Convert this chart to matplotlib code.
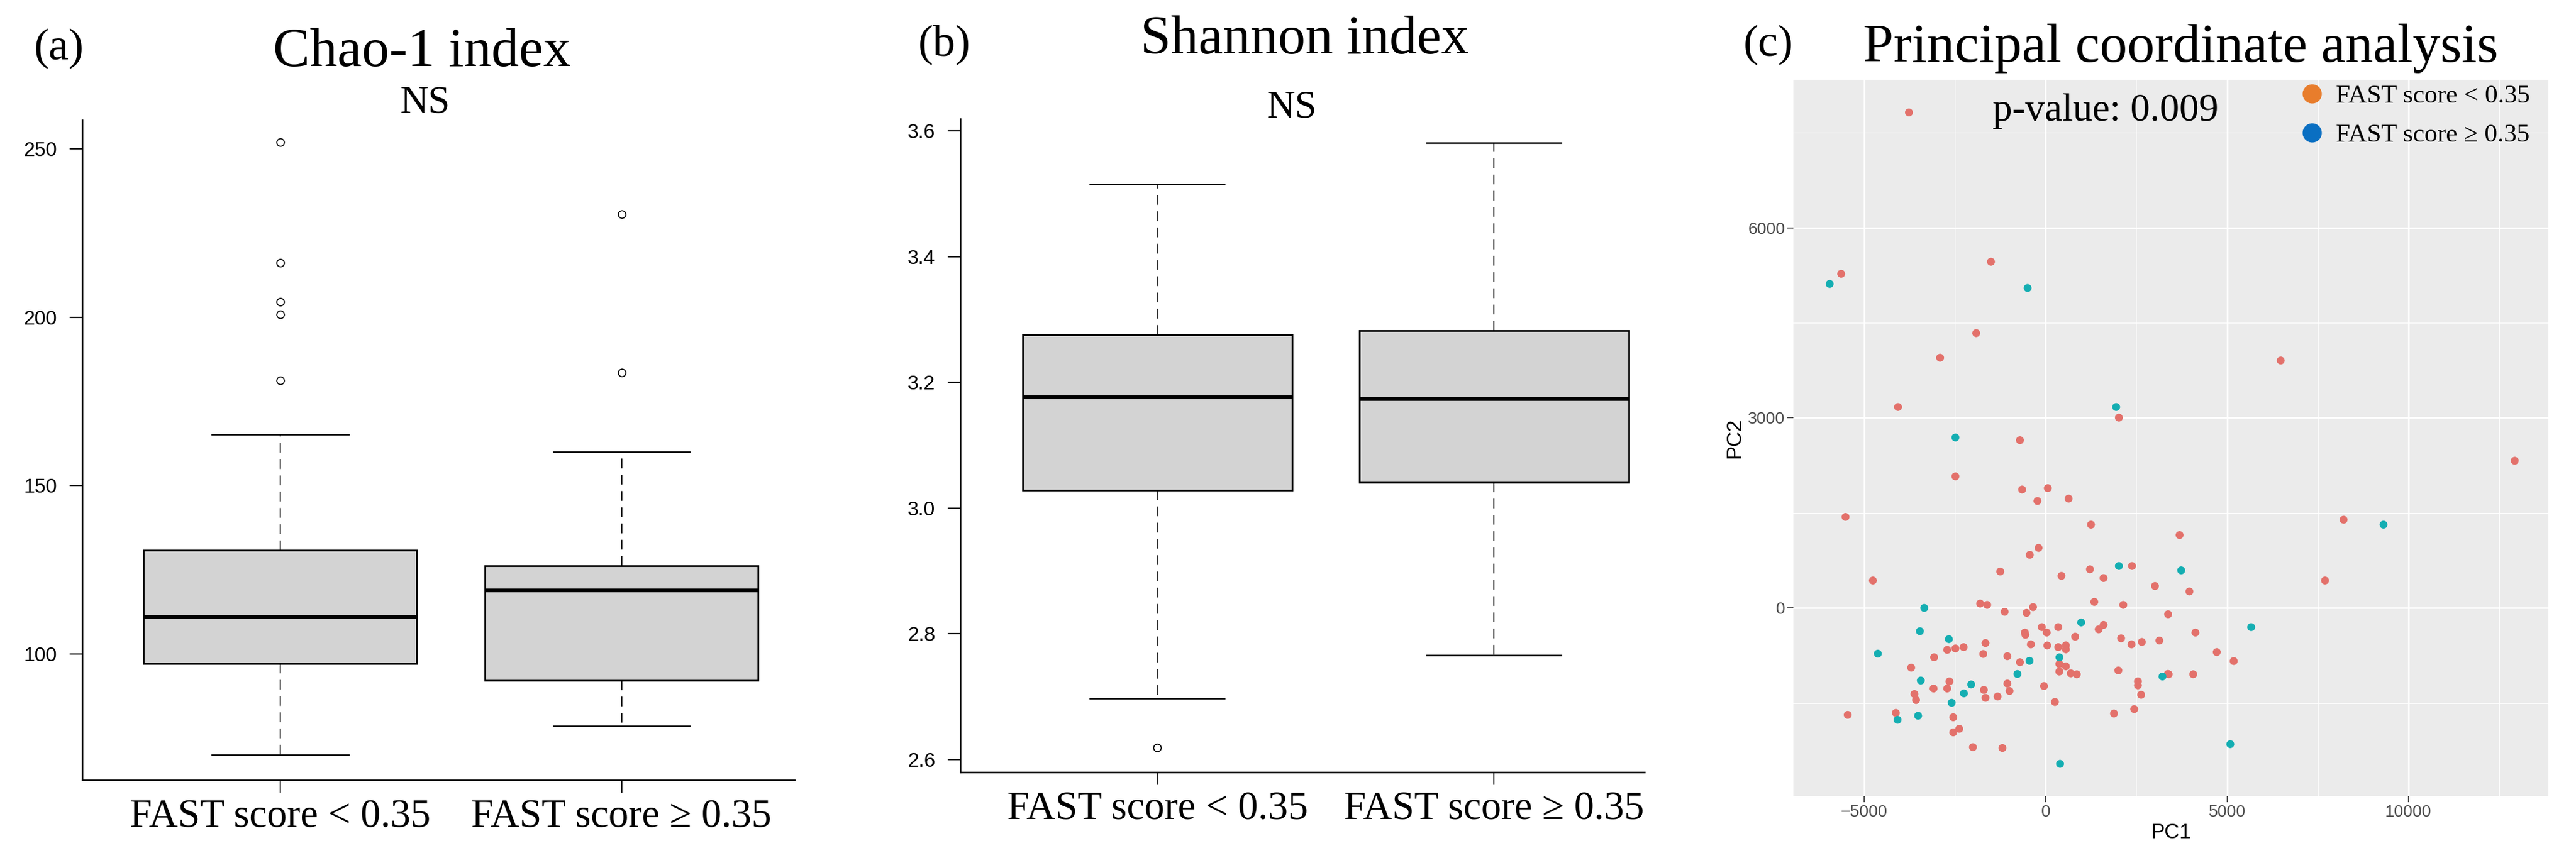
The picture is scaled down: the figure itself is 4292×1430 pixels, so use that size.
import numpy as np
import matplotlib
matplotlib.use("Agg")
import matplotlib.pyplot as plt
from matplotlib.lines import Line2D

plt.rcParams['font.family'] = ['Liberation Sans', 'DejaVu Sans']
SERIF = ['Liberation Serif', 'DejaVu Serif']

groups = ['FAST score < 0.35', 'FAST score \u2265 0.35']

# box plot statistics (low whisker, q1, median, q3, high whisker)
chao_lo = [70.0, 78.6]
chao_q1 = [97.1, 92.1]
chao_med = [111.0, 118.9]
chao_q3 = [130.7, 126.1]
chao_hi = [165.2, 160.0]
chao_out = [[252.0, 216.2, 204.6, 200.8, 181.3], [230.7, 183.6]]

shan_lo = [2.697, 2.766]
shan_q1 = [3.028, 3.041]
shan_med = [3.176, 3.173]
shan_q3 = [3.276, 3.282]
shan_hi = [3.515, 3.581]
shan_out = [[2.619], []]

# PCoA coordinates, FAST score < 0.35
low_pc1 = [-3768, -1507, -5636, -1914, -2909, 6480, -4069, 2019,
           -708, 12930, -2487, -648, 60, -226, 633, -5516, 8213, 1251, 3692, -196,
           -437, -1251, 2381, 1221, 437, 1597, -4762, 7701, 3014, 3963,
           -1805, -1611, 1341, 2140, -1130, -347, -527, 3376, 1597, 1462,
           -105, 347, -573, 30, 4129, -557, 814, 2080, 3135, 2652,
           -1658, 2366, -407, 45, -2260, -2487, -2713, 347, 558, 558,
           4717, -1718, -1055, -3074, 5184, -708, 377, 558, -3707, 2004,
           377, 693, 859, 3391, 4069, -2652, 2544, 2544, -1055, -45,
           -3089, -2713, -1703, -995, -3617, 2633, -1326, -1658, -3572, 256,
           2441, -5455, -4129, 1884, -2547, -2381, -2547, -2004, -1191, 3369]
low_pc2 = [7822, 5465, 5275, 4338, 3950, 3906, 3172, 3004,
           2648, 2324, 2077, 1869, 1891, 1688, 1726, 1437, 1393, 1315, 1151, 948,
           839, 575, 662, 610, 506, 472, 433, 433, 346, 260,
           69, 48, 95, 48, -61, 13, -78, -100, -268, -338,
           -303, -303, -389, -389, -389, -424, -454, -480, -515, -537,
           -554, -575, -575, -593, -619, -640, -662, -619, -591, -654,
           -697, -727, -762, -779, -839, -857, -884, -922, -943, -987,
           -1004, -1033, -1048, -1047, -1047, -1160, -1159, -1222, -1194, -1233,
           -1272, -1272, -1294, -1311, -1359, -1371, -1398, -1419, -1454, -1484,
           -1597, -1688, -1657, -1666, -1726, -1908, -1964, -2198, -2211, -1042]

# PCoA coordinates, FAST score >= 0.35
high_pc1 = [-5953, -497, 1944, -2487, 9313, 2019, 3737, -3346, 980, 5666,
            -3466, -2667, -4626, 380, -445, -778, 3220, -3441, -2052, -2252,
            -2590, -3515, -4082, 5090, 397]
high_pc2 = [5115, 5050, 3172, 2691, 1315, 662, 593, 0, -229, -303,
            -367, -493, -722, -780, -835, -1043, -1083, -1146, -1208, -1349,
            -1497, -1702, -1766, -2151, -2461]


def fx(px):
    return px / 4292.0


def fy(py):
    return 1 - py / 1430.0


fig = plt.figure(figsize=(42.92, 14.30), dpi=100)


def box_panel(rect, lo, q1, med, q3, hi, out, ylim, xlim, yticks, ylabels):
    ax = fig.add_axes(rect)
    stats = []
    for i in range(2):
        stats.append(dict(whislo=lo[i], q1=q1[i], med=med[i], q3=q3[i],
                          whishi=hi[i], fliers=out[i]))
    ax.bxp(stats, positions=[1, 2], widths=0.8, patch_artist=True,
           boxprops=dict(facecolor='#D3D3D3', edgecolor='black', linewidth=2.0),
           medianprops=dict(color='black', linewidth=4.5, solid_capstyle='butt'),
           whiskerprops=dict(color='black', linewidth=1.3, linestyle=(0, (9, 6))),
           capprops=dict(color='black', linewidth=1.8),
           flierprops=dict(marker='o', markerfacecolor='none', markeredgecolor='black',
                           markersize=9, markeredgewidth=1.3))
    ax.set_xlim(xlim)
    ax.set_ylim(ylim)
    for s in ['top', 'right']:
        ax.spines[s].set_visible(False)
    for s in ['left', 'bottom']:
        ax.spines[s].set_linewidth(1.8)
    ax.set_xticks([1, 2])
    ax.set_xticklabels(groups, fontfamily=SERIF, fontsize=48)
    ax.set_yticks(yticks)
    ax.set_yticklabels(ylabels, fontsize=24)
    ax.tick_params(axis='x', length=15, width=1.4, pad=8)
    ax.tick_params(axis='y', length=15, width=1.6, pad=15)
    return ax


# (a) Chao-1
ax1 = box_panel([fx(137), fy(1300), fx(1324 - 137), (1300 - 200) / 1430.0],
                chao_lo, chao_q1, chao_med, chao_q3, chao_hi, chao_out,
                (62.5, 258.6), (0.42, 2.507),
                [100, 150, 200, 250], ['100', '150', '200', '250'])

# (b) Shannon
ax2 = box_panel([fx(1600), fy(1287), fx(2740 - 1600), (1287 - 198) / 1430.0],
                shan_lo, shan_q1, shan_med, shan_q3, shan_hi, shan_out,
                (2.58, 3.619), (0.415, 2.447),
                [2.6, 2.8, 3.0, 3.2, 3.4, 3.6], ['2.6', '2.8', '3.0', '3.2', '3.4', '3.6'])

# (c) PCoA
ax3 = fig.add_axes([fx(2988), fy(1327), fx(4246 - 2988), (1327 - 133) / 1430.0])
ax3.set_facecolor('#EBEBEB')
ax3.scatter(low_pc1, low_pc2, s=90, color='#E3716B', edgecolors='none', zorder=3)
ax3.scatter(high_pc1, high_pc2, s=90, color='#14AEB2', edgecolors='none', zorder=3)
ax3.set_xlim(-6954, 13858)
ax3.set_ylim(-2972, 8337)
ax3.set_xticks([-5000, 0, 5000, 10000])
ax3.set_xticks([-2500, 2500, 7500, 12500], minor=True)
ax3.set_yticks([0, 3000, 6000])
ax3.set_yticks([-1500, 1500, 4500, 7500], minor=True)
ax3.grid(which='major', color='white', linewidth=1.8)
ax3.grid(which='minor', color='white', linewidth=0.9)
ax3.set_axisbelow(True)
for s in ax3.spines.values():
    s.set_visible(False)
ax3.tick_params(which='major', length=7, width=1.2, color='#333333',
                labelcolor='#4D4D4D', labelsize=20, pad=3)
ax3.tick_params(which='minor', length=0)
ax3.set_xlabel('PC1', fontsize=25, labelpad=3)
ax3.set_ylabel('PC2', fontsize=25, labelpad=4)

handles = [Line2D([], [], marker='o', linestyle='', color='#E87D2C', markersize=22),
           Line2D([], [], marker='o', linestyle='', color='#0A6FC2', markersize=22)]
ax3.legend(handles, groups, loc='upper left', bbox_to_anchor=(fx(3830), fy(141)),
           bbox_transform=fig.transFigure, frameon=False,
           prop=dict(family=SERIF, size=31), handlelength=1.0, handletextpad=0.45,
           labelspacing=0.6, borderpad=0, borderaxespad=0)

# titles and annotations
fig.text(fx(703), fy(110), 'Chao-1 index', fontfamily=SERIF, fontsize=66, ha='center', va='baseline')
fig.text(fx(57), fy(99), '(a)', fontfamily=SERIF, fontsize=54, ha='left', va='baseline')
fig.text(fx(708), fy(187), 'NS', fontfamily=SERIF, fontsize=47, ha='center', va='baseline')

fig.text(fx(2174), fy(89), 'Shannon index', fontfamily=SERIF, fontsize=66, ha='center', va='baseline')
fig.text(fx(1530), fy(92), '(b)', fontfamily=SERIF, fontsize=54, ha='left', va='baseline')
fig.text(fx(2152), fy(196), 'NS', fontfamily=SERIF, fontsize=47, ha='center', va='baseline')

fig.text(fx(3633), fy(103), 'Principal coordinate analysis', fontfamily=SERIF, fontsize=66,
         ha='center', va='baseline')
fig.text(fx(2905), fy(93), '(c)', fontfamily=SERIF, fontsize=54, ha='left', va='baseline')
fig.text(fx(3508), fy(201), 'p-value: 0.009', fontfamily=SERIF, fontsize=47, ha='center', va='baseline')

fig.savefig('out.png', dpi=100, facecolor='white')
